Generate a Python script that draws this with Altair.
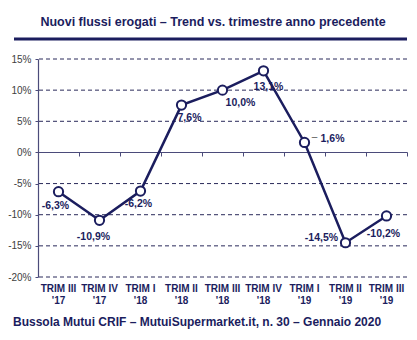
import altair as alt
import pandas as pd

categories = ["TRIM III|'17", "TRIM IV|'17", "TRIM I|'18", "TRIM II|'18", "TRIM III|'18",
              "TRIM IV|'18", "TRIM I|'19", "TRIM II|'19", "TRIM III|'19"]
values = [-6.3, -10.9, -6.2, 7.6, 10.0, 13.1, 1.6, -14.5, -10.2]
y_ticks = [15, 10, 5, 0, -5, -10, -15, -20]
grid_values = [15, 10, 5, -5, -10, -15, -20]

title_text = "Nuovi flussi erogati \u2013 Trend vs. trimestre anno precedente"
footer_text = "Bussola Mutui CRIF \u2013 MutuiSupermarket.it, n. 30 \u2013 Gennaio 2020"

# label placement (styling): dx, dy per point
label_style = [(-3, 14), (-6, 17), (-2, 13), (8, 13), (18, 13), (5, 16), (28, -3), (-24, -5), (-3, 18)]

df = pd.DataFrame({
    "idx": list(range(len(categories))),
    "cat": categories,
    "val": values,
    "lab": [f"{v:.1f}".replace(".", ",") + "%" for v in values],
})

NAVY = "#1b1d5e"
FONT = "Liberation Sans"
XSCALE = alt.Scale(paddingInner=0, paddingOuter=0)
YSCALE = alt.Scale(domain=[-20, 15], nice=False, zero=False)

base = alt.Chart(df)

x_main = alt.X("cat:N", sort=categories, title=None, scale=XSCALE,
               axis=alt.Axis(orient="bottom", domain=False, ticks=False, labelAngle=0,
                             labelExpr="split(datum.label, '|')", labelFont=FONT,
                             labelFontSize=10, labelFontWeight="bold", labelColor=NAVY,
                             labelPadding=6, labelLineHeight=12, grid=False))
y_main = alt.Y("val:Q", title=None, scale=YSCALE,
               axis=alt.Axis(values=y_ticks, labelExpr="datum.value + '%'", labelFont=FONT,
                             labelFontSize=10, labelColor="#404040", labelPadding=4,
                             labelOverlap=False, grid=False,
                             domain=True, domainColor="#4b4b7a", domainWidth=1.2,
                             ticks=True, tickSize=3, tickColor="#4b4b7a"))

x_plain = alt.X("cat:N", sort=categories, scale=XSCALE, axis=None)
y_plain = alt.Y("val:Q", scale=YSCALE, axis=None)

grid = alt.Chart(pd.DataFrame({"g": grid_values})).mark_rule(
    color="#2a2a5a", strokeWidth=1, strokeDash=[4, 3]
).encode(y=alt.Y("g:Q", scale=YSCALE, axis=None))

line = base.mark_line(color=NAVY, strokeWidth=2.5).encode(x=x_main, y=y_main)

zero_axis = base.mark_point(opacity=0).encode(
    x=alt.X("cat:N", sort=categories, title=None, scale=XSCALE,
            axis=alt.Axis(orient="bottom", offset=-125, labels=False, domain=True,
                          domainColor="#4b4b7a", domainWidth=1.2, ticks=True, tickBand="extent",
                          tickSize=4, tickColor="#4b4b7a", grid=False, title=None)),
    y=y_plain,
)

points = base.mark_point(filled=True, fill="white", stroke=NAVY, strokeWidth=2,
                         size=85, opacity=1).encode(x=x_plain, y=y_plain)

label_layers = []
for i, (dx, dy) in enumerate(label_style):
    label_layers.append(
        base.transform_filter(alt.datum.idx == i).mark_text(
            dx=dx, dy=dy, font=FONT, fontSize=10.5, fontWeight="bold", color=NAVY
        ).encode(x=x_plain, y=y_plain, text="lab:N")
    )

leader = base.transform_filter(alt.datum.idx == 6).mark_text(
    text="\u2013", dx=10, dy=-5, font=FONT, fontSize=10, color="#555555"
).encode(x=x_plain, y=y_plain)

title = alt.Chart(pd.DataFrame({"t": [title_text]})).mark_text(
    font=FONT, fontSize=12.5, fontWeight="bold", color=NAVY, align="center"
).encode(x=alt.value(175), y=alt.value(-37), text="t:N")

rule = alt.Chart(pd.DataFrame({"a": [0]})).mark_rule(color=NAVY, strokeWidth=3).encode(
    x=alt.value(-24), x2=alt.value(369), y=alt.value(-20))

footer = alt.Chart(pd.DataFrame({"t": [footer_text]})).mark_text(
    font=FONT, fontSize=12, fontWeight="bold", color=NAVY, align="left"
).encode(x=alt.value(-25), y=alt.value(263), text="t:N")

chart = alt.layer(grid, line, zero_axis, points, *label_layers, leader, title, rule, footer).resolve_axis(
    x="independent", y="independent"
).properties(
    width=369, height=218,
    autosize=alt.AutoSizeParams(type="none"),
    padding={"left": 38, "top": 59, "right": 10, "bottom": 63},
    background="white",
).configure_view(stroke=None)

chart.save("out.html", embed_options={"renderer": "svg", "actions": False})
